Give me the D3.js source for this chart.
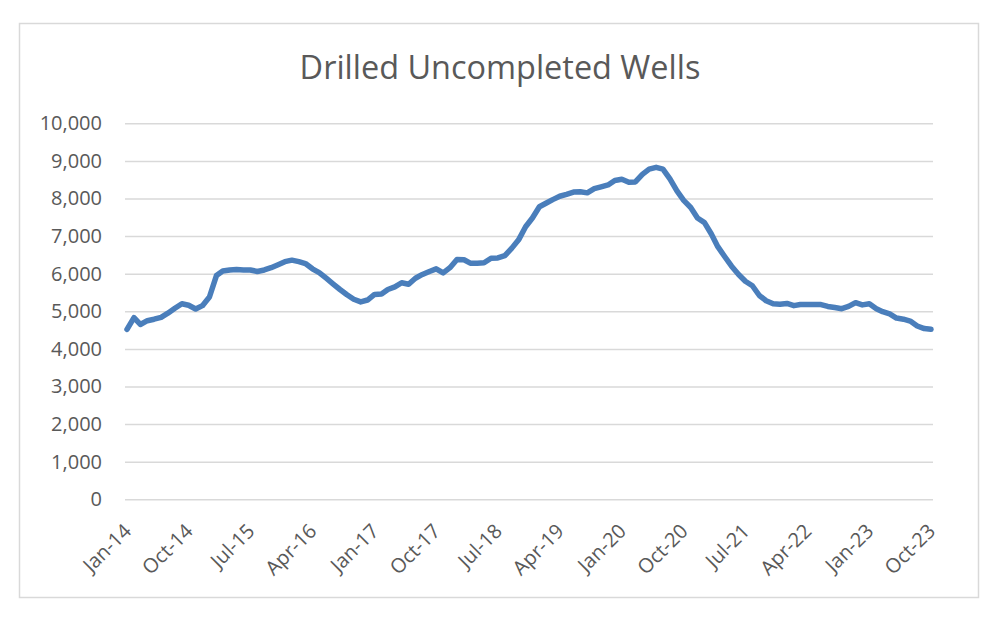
<!DOCTYPE html>
<html><head><meta charset="utf-8">
<script src="https://cdn.jsdelivr.net/npm/d3@7"></script>
<style>body{margin:0;background:#fff;}svg{display:block;}</style>
</head><body>
<svg id="c" width="1001" height="626"></svg>
<script>
const title = "Drilled Uncompleted Wells";
const startYear = 2014, startMonth = 0; // Jan-14
const wells = [4520,4830,4650,4750,4790,4840,4950,5080,5200,5160,5060,5150,
5380,5950,6070,6100,6110,6100,6100,6060,6100,6160,6240,6320,
6360,6320,6270,6130,6030,5880,5730,5580,5440,5320,5250,5300,
5450,5460,5580,5650,5760,5720,5880,5980,6060,6130,6020,6160,
6380,6370,6280,6280,6290,6410,6420,6480,6680,6900,7250,7480,
7780,7880,7970,8060,8110,8170,8180,8150,8260,8310,8360,8480,
8510,8430,8440,8640,8780,8830,8780,8520,8200,7950,7760,7480,
7360,7050,6720,6450,6200,5980,5800,5680,5420,5280,5200,5190,
5210,5150,5180,5180,5180,5180,5130,5100,5070,5130,5230,5170,
5200,5070,4990,4930,4820,4790,4740,4610,4540,4520];
const yTicks = [0,1000,2000,3000,4000,5000,6000,7000,8000,9000,10000];
const xTickLabels = ["Jan-14","Oct-14","Jul-15","Apr-16","Jan-17","Oct-17","Jul-18","Apr-19","Jan-20","Oct-20","Jul-21","Apr-22","Jan-23","Oct-23"];
const xTickStep = 9;

const months = wells.map((v,i)=>new Date(startYear, startMonth+i, 1));
const svg = d3.select("#c");
const font = "'Open Sans', sans-serif";
const textColor = "#595959";

svg.append("rect").attr("x",19.5).attr("y",23.5).attr("width",959).attr("height",574)
  .attr("fill","#fff").attr("stroke","#d9d9d9").attr("stroke-width",1.5);

const t = svg.append("text").attr("x",500).attr("y",79).attr("text-anchor","middle")
  .attr("font-family",font).attr("font-size",30).attr("fill",textColor).text(title);
const tw = t.node().getComputedTextLength();
t.attr("font-size", 30*401/tw);

const x = d3.scaleTime().domain([months[0], months[months.length-1]]).range([127,931]);
const y = d3.scaleLinear().domain([0,10000]).range([499.3,123.3]);

const yAxis = d3.axisLeft(y).tickValues(yTicks).tickSize(-808).tickPadding(23)
  .tickFormat(d3.format(","));
const gy = svg.append("g").attr("transform","translate(125,0)").call(yAxis);
gy.select(".domain").remove();
gy.selectAll(".tick line").attr("stroke","#d9d9d9").attr("stroke-width",1.5);
gy.selectAll(".tick text").attr("font-family",font).attr("font-size",20).attr("fill",textColor);

const tickDates = xTickLabels.map((l,i)=>months[i*xTickStep]);
const xAxis = d3.axisBottom(x).tickValues(tickDates).tickSize(0)
  .tickFormat((d,i)=>xTickLabels[i]);
const gx = svg.append("g").attr("transform","translate(0,499.3)").call(xAxis);
gx.select(".domain").remove();
gx.selectAll(".tick text").attr("font-family",font).attr("font-size",20).attr("fill",textColor)
  .attr("text-anchor","end").attr("dy",0).attr("y",0)
  .attr("transform","translate(5,33) rotate(-45)");

const line = d3.line().x((d,i)=>x(months[i])).y(d=>y(d)).curve(d3.curveLinear);
svg.append("path").datum(wells).attr("d",line).attr("fill","none")
  .attr("stroke","#4a7ebb").attr("stroke-width",5.5).attr("stroke-linejoin","round").attr("stroke-linecap","round");
</script>
</body></html>
